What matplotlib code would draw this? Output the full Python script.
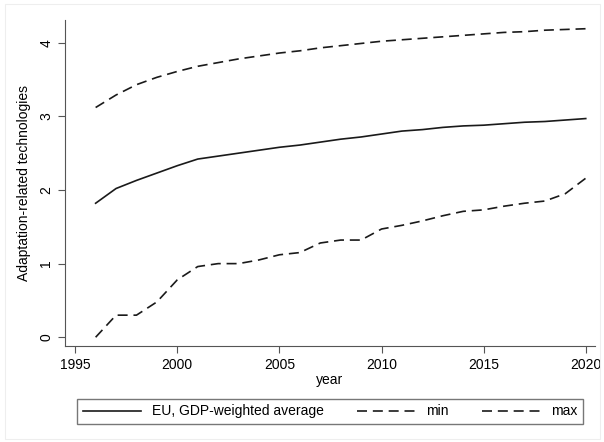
import matplotlib
matplotlib.use('Agg')
import matplotlib.pyplot as plt
from matplotlib.patches import Rectangle

plt.rcParams['font.family'] = ['Liberation Sans', 'DejaVu Sans']

years = list(range(1996, 2021))
eu_avg = [1.82, 2.02, 2.13, 2.23, 2.33, 2.42, 2.46, 2.50, 2.54, 2.58, 2.61, 2.65, 2.69,
          2.72, 2.76, 2.80, 2.82, 2.85, 2.87, 2.88, 2.90, 2.92, 2.93, 2.95, 2.97]
min_vals = [0.00, 0.30, 0.30, 0.48, 0.78, 0.96, 1.00, 1.00, 1.05, 1.12, 1.15, 1.28, 1.32,
            1.32, 1.47, 1.52, 1.58, 1.65, 1.71, 1.73, 1.78, 1.82, 1.85, 1.95, 2.16]
max_vals = [3.12, 3.29, 3.43, 3.53, 3.61, 3.68, 3.73, 3.78, 3.82, 3.86, 3.89, 3.93, 3.96,
            3.99, 4.02, 4.04, 4.06, 4.08, 4.10, 4.12, 4.14, 4.15, 4.17, 4.18, 4.19]
x_ticks = [1995, 2000, 2005, 2010, 2015, 2020]
y_ticks = [0, 1, 2, 3, 4]

fig = plt.figure(figsize=(6.04, 4.42), dpi=100)
ax = fig.add_axes([0.1076, 0.217, 0.8774, 0.738])

line_col = '#1a1a1a'
dash = (0, (6, 3.5))
ax.plot(years, eu_avg, color=line_col, lw=1.2, label='EU, GDP-weighted average')
ax.plot(years, min_vals, color=line_col, lw=1.2, linestyle=dash, label='min')
ax.plot(years, max_vals, color=line_col, lw=1.2, linestyle=dash, label='max')

ax.set_xlim(1994.5, 2020.45)
ax.set_ylim(-0.12, 4.31)
ax.set_xticks(x_ticks)
ax.set_yticks(y_ticks)
ax.set_yticklabels([str(t) for t in y_ticks], rotation=90, va='center')
ax.tick_params(labelsize=10, length=5, color='#555555', direction='out')
for side in ['top', 'right']:
    ax.spines[side].set_visible(False)
for side in ['left', 'bottom']:
    ax.spines[side].set_color('#555555')
ax.set_xlabel('year', fontsize=10, labelpad=1)
ax.set_ylabel('Adaptation-related technologies', fontsize=10, labelpad=6)

fig.legend(loc='lower left', bbox_to_anchor=(0.1275, 0.0407, 0.838, 0.061),
           mode='expand', ncol=3, fontsize=10, frameon=True, fancybox=False,
           edgecolor='#555555', handlelength=4.2, borderaxespad=0,
           columnspacing=1.5)

fig.patches.append(Rectangle((0.009, 0.006), 0.985, 0.985, transform=fig.transFigure,
                             fill=False, edgecolor='#eeeeee', lw=0.8))

fig.savefig('out.png', dpi=100)
